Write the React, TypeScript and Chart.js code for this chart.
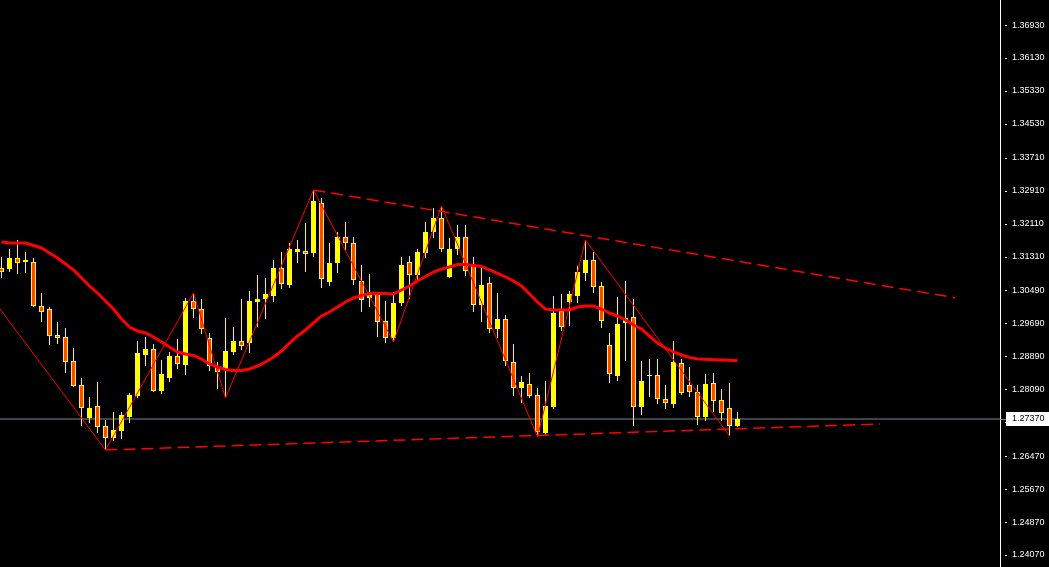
import React, { useEffect, useRef } from "react";
import { Chart, registerables } from "chart.js";

Chart.register(...registerables);

// ---- Data (daily candles) ----
const OPEN = [
  1.31034, 1.31010, 1.31277, 1.31180, 1.31180, 1.30112, 1.30039, 1.29409, 1.29360, 1.28778,
  1.28195, 1.27395, 1.27686, 1.27201, 1.26909, 1.27079, 1.27419, 1.27928, 1.28923, 1.29069,
  1.28050, 1.28365, 1.28899, 1.28681, 1.30234, 1.30039, 1.29336, 1.28632, 1.28559, 1.28996,
  1.29263, 1.29214, 1.30209, 1.30282, 1.30355, 1.31034, 1.30622, 1.31422, 1.31447, 1.31398,
  1.32611, 1.30695, 1.31156, 1.31786, 1.31641, 1.30719, 1.30306, 1.30428, 1.29748, 1.29336,
  1.30185, 1.31180, 1.30864, 1.31398, 1.31908, 1.32247, 1.30816, 1.31495, 1.31786, 1.31107,
  1.30136, 1.30670, 1.29554, 1.29797, 1.28753, 1.28123, 1.28220, 1.27953, 1.27031, 1.27662,
  1.29991, 1.30209, 1.30355, 1.30913, 1.31228, 1.30597, 1.29166, 1.28414, 1.29700, 1.29845,
  1.27662, 1.28414, 1.28438, 1.27856, 1.27734, 1.28729, 1.28195, 1.28026, 1.27419, 1.28244,
  1.27831, 1.27637, 1.27201,
];
const HIGH = [
  1.31301, 1.31495, 1.31714, 1.31422, 1.31277, 1.30428, 1.30088, 1.29724, 1.29578, 1.29093,
  1.28365, 1.27904, 1.28268, 1.27346, 1.27540, 1.27540, 1.28001, 1.29263, 1.29360, 1.29190,
  1.28802, 1.28996, 1.29312, 1.30306, 1.30428, 1.30282, 1.29457, 1.28753, 1.29821, 1.29603,
  1.30282, 1.30476, 1.30864, 1.30792, 1.31228, 1.31422, 1.31641, 1.31714, 1.32126, 1.32927,
  1.32733, 1.31641, 1.31908, 1.32150, 1.31786, 1.31107, 1.30889, 1.30452, 1.30234, 1.30452,
  1.31301, 1.31325, 1.31495, 1.32150, 1.32490, 1.32539, 1.31762, 1.32078, 1.32078, 1.31301,
  1.31058, 1.30816, 1.30428, 1.29894, 1.29190, 1.28414, 1.28487, 1.28123, 1.28292, 1.30355,
  1.30403, 1.30476, 1.31083, 1.31714, 1.31422, 1.30695, 1.29457, 1.30331, 1.30719, 1.30282,
  1.28778, 1.28826, 1.28826, 1.28195, 1.29263, 1.28826, 1.28632, 1.28195, 1.28462, 1.28487,
  1.28098, 1.28244, 1.27540,
];
const LOW = [
  1.30792, 1.30937, 1.30889, 1.30913, 1.30088, 1.29724, 1.29166, 1.29190, 1.28487, 1.28147,
  1.27201, 1.27273, 1.27031, 1.26618, 1.26837, 1.26885, 1.27273, 1.27880, 1.28656, 1.28026,
  1.27977, 1.28268, 1.28584, 1.28438, 1.29821, 1.29433, 1.28535, 1.28098, 1.27880, 1.28923,
  1.29045, 1.28972, 1.29603, 1.29797, 1.30209, 1.30525, 1.30549, 1.31156, 1.30937, 1.31301,
  1.30549, 1.30597, 1.30913, 1.31471, 1.30622, 1.29967, 1.30088, 1.29360, 1.29214, 1.29239,
  1.30112, 1.30282, 1.30695, 1.31277, 1.31762, 1.31422, 1.30792, 1.31350, 1.30840, 1.29967,
  1.29724, 1.29457, 1.29336, 1.28656, 1.27928, 1.27759, 1.27880, 1.26934, 1.26982, 1.27613,
  1.29506, 1.29627, 1.30185, 1.30719, 1.30428, 1.29578, 1.28244, 1.28292, 1.28778, 1.27201,
  1.27467, 1.27904, 1.27734, 1.27613, 1.27637, 1.27953, 1.27904, 1.27225, 1.27322, 1.27540,
  1.27322, 1.26958, 1.27176,
];
const CLOSE = [
  1.30937, 1.31277, 1.31156, 1.31228, 1.30112, 1.29967, 1.29384, 1.29336, 1.28753, 1.28171,
  1.27637, 1.27637, 1.27176, 1.26909, 1.27104, 1.27467, 1.27953, 1.28972, 1.29069, 1.28050,
  1.28462, 1.28899, 1.28705, 1.30234, 1.30039, 1.29554, 1.28656, 1.28511, 1.29020, 1.29263,
  1.29142, 1.30234, 1.30282, 1.30403, 1.31034, 1.30646, 1.31495, 1.31495, 1.31374, 1.32660,
  1.30767, 1.31156, 1.31786, 1.31641, 1.30743, 1.30258, 1.30428, 1.29724, 1.29336, 1.30185,
  1.31107, 1.30864, 1.31422, 1.31908, 1.32247, 1.31495, 1.31495, 1.31786, 1.30961, 1.30136,
  1.30622, 1.29554, 1.29797, 1.28778, 1.28123, 1.28268, 1.27928, 1.27055, 1.27686, 1.29942,
  1.29603, 1.30403, 1.30937, 1.31228, 1.30573, 1.29748, 1.28462, 1.29675, 1.29821, 1.27662,
  1.28292, 1.28438, 1.27856, 1.27759, 1.28753, 1.28001, 1.28026, 1.27419, 1.28220, 1.27807,
  1.27516, 1.27201, 1.27370,
];
const MA = [
  1.31665, 1.31641, 1.31641, 1.31641, 1.31580, 1.31520, 1.31398, 1.31277, 1.31131, 1.30986,
  1.30792, 1.30597, 1.30428, 1.30234, 1.30039, 1.29797, 1.29603, 1.29506, 1.29457, 1.29360,
  1.29239, 1.29118, 1.28996, 1.28948, 1.28911, 1.28826, 1.28705, 1.28632, 1.28571, 1.28547,
  1.28547, 1.28584, 1.28656, 1.28753, 1.28875, 1.29020, 1.29214, 1.29384, 1.29530, 1.29700,
  1.29870, 1.29967, 1.30088, 1.30209, 1.30306, 1.30367, 1.30416, 1.30421, 1.30416, 1.30403,
  1.30500, 1.30597, 1.30719, 1.30828, 1.30937, 1.31010, 1.31058, 1.31119, 1.31119, 1.31095,
  1.31071, 1.30986, 1.30901, 1.30816, 1.30719, 1.30597, 1.30403, 1.30209, 1.30039, 1.30015,
  1.30015, 1.30015, 1.30088, 1.30112, 1.30112, 1.30039, 1.29942, 1.29870, 1.29772, 1.29651,
  1.29554, 1.29384, 1.29214, 1.29093, 1.28996, 1.28923, 1.28863, 1.28826, 1.28819, 1.28809,
  1.28802, 1.28795, 1.28785,
];
const ZIGZAG_IDX = [-6, 13, 24, 28, 39, 49, 55, 67, 73, 91];
const ZIGZAG_PRICE = [1.31544, 1.26618, 1.30428, 1.27880, 1.32927, 1.29239, 1.32539, 1.26934, 1.31714, 1.26958];
const UPPER_LINE_IDX = [39, 119.2];
const UPPER_LINE_PRICE = [1.32927, 1.30312];
const LOWER_LINE_IDX = [13, 109.8];
const LOWER_LINE_PRICE = [1.26618, 1.27249];
const CURRENT_PRICE = 1.2737;
const Y_TICKS = [
  1.2407, 1.2487, 1.2567, 1.2647, 1.2729, 1.2809, 1.2889, 1.2969, 1.3049,
  1.3131, 1.3211, 1.3291, 1.3371, 1.3453, 1.3533, 1.3613, 1.3693,
];
const Y_MIN = 1.23779;
const Y_MAX = 1.37537;
const X_MIN = -0.1875;
const X_MAX = 124.8125;

const BULL = "#FFFF00";
const BEAR = "#FF4500";
const RED = "#FF0000";
const GREY = "#778899";
const FONT = '"Liberation Sans", Arial, sans-serif';

export default function App() {
  const ref = useRef<HTMLCanvasElement | null>(null);

  useEffect(() => {
    document.body.style.margin = "0";
    document.body.style.background = "#000";
    const canvas = ref.current;
    if (!canvas) return;

    const idx = CLOSE.map((_, i) => i);
    const bodies = idx.map((i) => ({ x: i, y: [OPEN[i], CLOSE[i]] }));
    const wicks = idx.map((i) => ({ x: i, y: [LOW[i], HIGH[i]] }));
    const bodyColors = idx.map((i) => (CLOSE[i] >= OPEN[i] ? BULL : BEAR));

    const bgPlugin = {
      id: "bg",
      beforeDraw(chart: any) {
        const c = chart.ctx;
        c.save();
        c.fillStyle = "#000";
        c.fillRect(0, 0, chart.width, chart.height);
        c.restore();
      },
      afterDraw(chart: any) {
        const c = chart.ctx;
        const ys = chart.scales.y;
        const right = chart.chartArea.right;
        c.save();
        // small detached tick marks
        c.fillStyle = "#FFFFFF";
        ys.ticks.forEach((t: any) => {
          const ty = Math.round(ys.getPixelForValue(t.value));
          c.fillRect(right + 5, ty, 2, 1);
        });
        // current price marker
        const y = Math.round(ys.getPixelForValue(CURRENT_PRICE));
        c.fillStyle = GREY;
        c.fillRect(right, y, 6, 1);
        const boxLeft = right + 6;
        c.fillStyle = "#FFFFFF";
        c.fillRect(boxLeft, y - 7, chart.width - boxLeft, 14);
        c.fillStyle = "#000";
        c.font = `9px ${FONT}`;
        c.textBaseline = "middle";
        c.textAlign = "left";
        c.fillText(CURRENT_PRICE.toFixed(5), right + 12, y);
        c.restore();
      },
    };

    const chart = new Chart(canvas, {
      type: "bar",
      data: {
        datasets: [
          {
            type: "line",
            data: [
              { x: X_MIN - 1, y: CURRENT_PRICE },
              { x: X_MAX + 1, y: CURRENT_PRICE },
            ],
            borderColor: GREY,
            borderWidth: 1,
            pointRadius: 0,
            order: 5,
          } as any,
          {
            type: "line",
            data: MA.map((v, i) => ({ x: i, y: v })),
            borderColor: RED,
            borderWidth: 3,
            pointRadius: 0,
            order: 0,
          } as any,
          {
            type: "line",
            data: ZIGZAG_IDX.map((x, i) => ({ x, y: ZIGZAG_PRICE[i] })),
            borderColor: RED,
            borderWidth: 1,
            pointRadius: 0,
            order: 0,
          } as any,
          {
            type: "line",
            data: UPPER_LINE_IDX.map((x, i) => ({ x, y: UPPER_LINE_PRICE[i] })),
            borderColor: RED,
            borderWidth: 1.5,
            borderDash: [12, 6],
            pointRadius: 0,
            order: 0,
          } as any,
          {
            type: "line",
            data: LOWER_LINE_IDX.map((x, i) => ({ x, y: LOWER_LINE_PRICE[i] })),
            borderColor: RED,
            borderWidth: 1.5,
            borderDash: [12, 6],
            pointRadius: 0,
            order: 0,
          } as any,
          {
            type: "bar",
            data: bodies,
            backgroundColor: bodyColors,
            borderColor: BULL,
            borderWidth: 1,
            borderSkipped: false,
            barThickness: 5,
            grouped: false,
            inflateAmount: 0,
            order: 1,
          } as any,
          {
            type: "bar",
            data: wicks,
            backgroundColor: BULL,
            borderWidth: 0,
            barThickness: 1,
            grouped: false,
            inflateAmount: 0,
            order: 2,
          } as any,
        ],
      },
      options: {
        animation: false,
        responsive: false,
        devicePixelRatio: 1,
        layout: { padding: 0 },
        plugins: { legend: { display: false }, tooltip: { enabled: false } },
        scales: {
          x: {
            type: "linear",
            min: X_MIN,
            max: X_MAX,
            offset: false,
            display: false,
          },
          y: {
            type: "linear",
            position: "right",
            min: Y_MIN,
            max: Y_MAX,
            afterBuildTicks: (s: any) => {
              s.ticks = Y_TICKS.map((v) => ({ value: v }));
            },
            afterFit: (s: any) => {
              s.width = 49;
              s.paddingTop = 0;
              s.paddingBottom = 0;
            },
            grid: {
              drawOnChartArea: false,
              drawTicks: false,
              color: "#FFFFFF",
            },
            border: { display: true, color: "#FFFFFF", width: 1 },
            ticks: {
              color: "#FFFFFF",
              autoSkip: false,
              padding: 12,
              font: { family: FONT, size: 9 },
              callback: (v: any) => Number(v).toFixed(5),
            },
          },
        },
      } as any,
      plugins: [bgPlugin],
    });

    return () => chart.destroy();
  }, []);

  return (
    <div style={{ width: 1049, height: 567, background: "#000" }}>
      <canvas ref={ref} width={1049} height={567} style={{ display: "block" }} />
    </div>
  );
}
